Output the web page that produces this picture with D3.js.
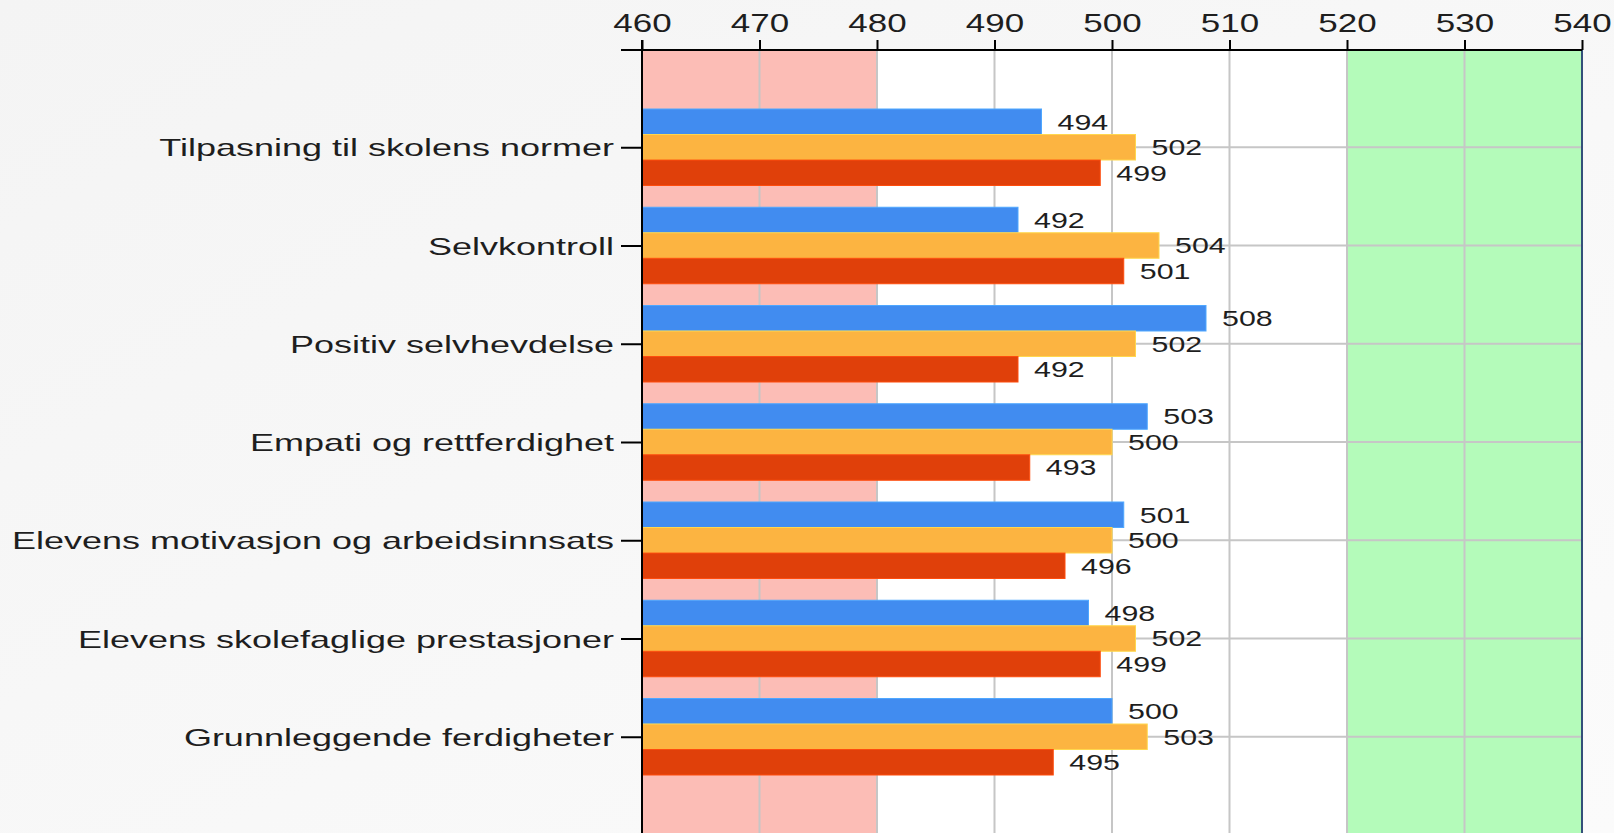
<!DOCTYPE html>
<html>
<head>
<meta charset="utf-8">
<script src="https://cdn.jsdelivr.net/npm/d3@7"></script>
<style>
	html, body { margin: 0; padding: 0; }
	body { width: 1614px; height: 833px; overflow: hidden; }
</style>
</head>
<body>
<div id="chart"></div>
<script>
var categories = ["Tilpasning til skolens normer",
	"Selvkontroll",
	"Positiv selvhevdelse",
	"Empati og rettferdighet",
	"Elevens motivasjon og arbeidsinnsats",
	"Elevens skolefaglige prestasjoner",
	"Grunnleggende ferdigheter"];

var blueValues = [494, 492, 508, 503, 501, 498, 500],
	orangeValues = [502, 504, 502, 500, 500, 502, 503],
	redValues = [499, 501, 492, 493, 496, 499, 495];

var xTicks = [460, 470, 480, 490, 500, 510, 520, 530, 540];

// low / high bands behind the bars
var bands = [[460, 480, "#fcbdb6"], [520, 540, "#b4fbba"]];

loadChart();

function loadChart() {
	var W = 1614,
		H = 833;

	var series = [blueValues, orangeValues, redValues],
		colors = ["#418cf0", "#fcb441", "#e0400a"];

	var svg = d3.select("#chart")
		.append("svg")
		.attr("width", W)
		.attr("height", H)
		.attr("display", "block")
		.style("font-family", "'Liberation Sans', Arial, sans-serif");

	var defs = svg.append("defs");
	var grad = defs.append("linearGradient")
		.attr("id", "bg")
		.attr("x1", 0).attr("y1", 0)
		.attr("x2", 1).attr("y2", 1);
	grad.append("stop").attr("offset", 0).attr("stop-color", "#f4f4f4");
	grad.append("stop").attr("offset", 1).attr("stop-color", "#fbfbfb");

	svg.append("rect")
		.attr("width", W)
		.attr("height", H)
		.attr("fill", "url(#bg)");

	var x = d3.scaleLinear()
		.domain([460, 540])
		.range([642, 1582]);

	var y = d3.scalePoint()
		.domain(categories)
		.range([49, 835])
		.padding(1);

	var inner = d3.scaleBand()
		.domain([0, 1, 2])
		.range([-38.25, 38.25]);

	var top = 50,
		bottom = H + 10;

	//	Plot area
	svg.append("rect")
		.attr("x", x(460))
		.attr("y", top)
		.attr("width", x(540) - x(460))
		.attr("height", bottom - top)
		.attr("fill", "#fff");

	svg.selectAll(".zone")
		.data(bands)
		.enter().append("rect")
		.attr("x", function(d) { return x(d[0]); })
		.attr("y", top)
		.attr("width", function(d) { return x(d[1]) - x(d[0]); })
		.attr("height", bottom - top)
		.attr("fill", function(d) { return d[2]; });

	//	Grid
	svg.selectAll(".vgrid")
		.data(xTicks)
		.enter().append("line")
		.attr("x1", function(d) { return x(d); })
		.attr("x2", function(d) { return x(d); })
		.attr("y1", top)
		.attr("y2", bottom)
		.attr("stroke", "#c6c6c6")
		.attr("stroke-width", 2);

	svg.selectAll(".hgrid")
		.data(categories)
		.enter().append("line")
		.attr("x1", x(460))
		.attr("x2", x(540))
		.attr("y1", function(d) { return y(d); })
		.attr("y2", function(d) { return y(d); })
		.attr("stroke", "#c6c6c6")
		.attr("stroke-width", 2);

	//	Bars
	series.forEach(function(vals, s) {
		svg.selectAll(".bar" + s)
			.data(vals)
			.enter().append("rect")
			.attr("x", x(460))
			.attr("y", function(d, i) { return y(categories[i]) + inner(s); })
			.attr("width", function(d) { return x(d) - x(460); })
			.attr("height", inner.bandwidth())
			.attr("fill", colors[s])
			.attr("stroke", d3.color(colors[s]).brighter(0.5))
			.attr("stroke-width", 1);

		svg.selectAll(".val" + s)
			.data(vals)
			.enter().append("text")
			.attr("transform", function(d, i) {
				return "translate(" + (x(d) + 16) + "," + (y(categories[i]) + inner(s) + inner.bandwidth() / 2) + ") scale(1.38,1)";
			})
			.attr("dy", "0.36em")
			.attr("font-size", 22)
			.attr("fill", "#1e1e1e")
			.text(function(d) { return d; });
	});

	//	Right border
	svg.append("line")
		.attr("x1", x(540))
		.attr("x2", x(540))
		.attr("y1", top)
		.attr("y2", bottom)
		.attr("stroke", "#34507a")
		.attr("stroke-width", 2);

	//	Top axis
	var xAxis = svg.append("g")
		.attr("transform", "translate(0," + top + ")")
		.call(d3.axisTop(x).tickValues(xTicks).tickSize(10).tickSizeOuter(0));
	xAxis.select(".domain").remove();
	xAxis.selectAll("line").attr("stroke", "#000").attr("stroke-width", 2);
	xAxis.selectAll("text")
		.attr("y", 0)
		.attr("dy", 0)
		.attr("transform", "translate(0,-18) scale(1.4,1)")
		.attr("font-size", 25)
		.attr("font-family", "'Liberation Sans', Arial, sans-serif")
		.attr("fill", "#1e1e1e");

	svg.append("line")
		.attr("x1", x(460) - 21)
		.attr("x2", x(540))
		.attr("y1", top)
		.attr("y2", top)
		.attr("stroke", "#000")
		.attr("stroke-width", 2);

	//	Left axis
	var yAxis = svg.append("g")
		.attr("transform", "translate(" + x(460) + ",0)")
		.call(d3.axisLeft(y).tickSize(21).tickSizeOuter(0));
	yAxis.select(".domain").remove();
	yAxis.selectAll("line").attr("stroke", "#000").attr("stroke-width", 2);
	yAxis.selectAll("text")
		.attr("x", 0)
		.attr("dy", "0.36em")
		.attr("transform", "translate(-28,0) scale(1.5,1)")
		.attr("font-size", 24)
		.attr("font-family", "'Liberation Sans', Arial, sans-serif")
		.attr("fill", "#1e1e1e");

	svg.append("line")
		.attr("x1", x(460))
		.attr("x2", x(460))
		.attr("y1", top - 10)
		.attr("y2", bottom)
		.attr("stroke", "#000")
		.attr("stroke-width", 2);
}
</script>
</body>
</html>
